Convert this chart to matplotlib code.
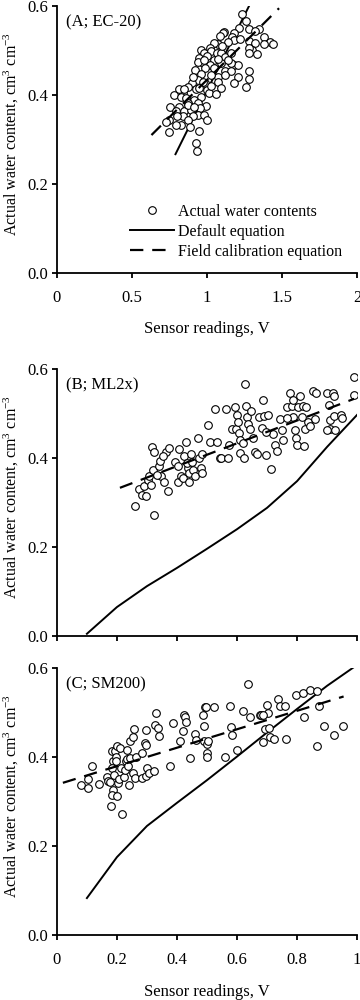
import matplotlib
matplotlib.use('Agg')
import matplotlib.pyplot as plt
import numpy as np

plt.rcParams['font.family'] = ['Liberation Serif', 'DejaVu Serif']
plt.rcParams['mathtext.fontset'] = 'custom'
plt.rcParams['mathtext.rm'] = 'Liberation Serif'
plt.rcParams['mathtext.it'] = 'Liberation Serif:italic'

# ---- panel A: EC-20 ----
a_x = [1.232, 1.257, 1.283, 1.346, 1.32, 1.212, 1.183, 1.116, 1.109, 1.087,
       1.165, 1.183, 1.217, 1.283, 1.32, 1.382, 1.42, 1.438, 1.382, 1.299,
       1.283, 1.333, 1.283, 1.076, 1.049, 1.138, 1.022, 0.96, 0.982, 1.027,
       1.065, 1.094, 1.121, 1.161, 1.0, 0.949, 1.049, 1.094, 0.971, 0.938,
       1.022, 1.183, 1.205, 1.161, 0.987, 0.92, 1.049, 1.121, 1.161, 1.283,
       1.071, 1.121, 1.027, 0.96, 1.205, 1.283, 1.071, 1.183, 1.259, 0.938,
       0.897, 0.987, 0.871, 0.929, 1.0, 1.016, 1.06, 0.96, 0.837, 0.815,
       0.844, 0.781, 0.826, 0.859, 0.915, 0.875, 0.938, 0.993, 0.815, 0.754,
       0.792, 0.844, 0.893, 0.955, 0.938, 0.978, 0.837, 0.797, 0.904, 0.875,
       1.0, 0.748, 0.826, 0.792, 0.884, 0.725, 0.748, 0.944, 0.926, 0.933,
       0.971, 0.904, 0.949, 1.027, 1.094, 0.871, 0.915, 1.138, 1.098, 1.071,
       0.978]
a_y = [0.583, 0.567, 0.548, 0.548, 0.544, 0.551, 0.539, 0.542, 0.539, 0.533,
       0.530, 0.524, 0.525, 0.521, 0.516, 0.531, 0.52, 0.514, 0.514, 0.501,
       0.505, 0.492, 0.494, 0.514, 0.516, 0.518, 0.505, 0.501, 0.495, 0.5,
       0.494, 0.494, 0.486, 0.494, 0.488, 0.483, 0.479, 0.471, 0.471, 0.475,
       0.467, 0.467, 0.467, 0.471, 0.46, 0.456, 0.46, 0.453, 0.453, 0.453,
       0.441, 0.445, 0.445, 0.447, 0.441, 0.435, 0.43, 0.426, 0.417, 0.434,
       0.426, 0.426, 0.417, 0.413, 0.411, 0.404, 0.402, 0.396, 0.404, 0.413,
       0.413, 0.4, 0.396, 0.393, 0.389, 0.381, 0.381, 0.375, 0.374, 0.373,
       0.365, 0.363, 0.367, 0.37, 0.355, 0.355, 0.353, 0.352, 0.352, 0.343,
       0.343, 0.343, 0.333, 0.333, 0.329, 0.34, 0.316, 0.318, 0.293, 0.275,
       0.43, 0.441, 0.415, 0.42, 0.415, 0.377, 0.374, 0.479, 0.51, 0.482,
       0.479]
a_default_x = [0.79, 1.28]
a_default_y = [0.267, 0.6]
a_field_x = [0.63, 1.48]
a_field_y = [0.31, 0.595]

# ---- panel B: ML2x ----
b_x = [0.259, 0.324, 0.274, 0.285, 0.296, 0.291, 0.302, 0.313, 0.318, 0.324,
       0.307, 0.321, 0.341, 0.346, 0.343, 0.358, 0.369, 0.363, 0.372, 0.352,
       0.332, 0.394, 0.402, 0.402, 0.408, 0.413, 0.425, 0.419, 0.43, 0.436,
       0.433, 0.441, 0.439, 0.447, 0.45, 0.455, 0.461, 0.469, 0.475, 0.48,
       0.484, 0.484, 0.503, 0.511, 0.525, 0.533, 0.542, 0.547, 0.562, 0.573,
       0.57, 0.584, 0.592, 0.595, 0.6, 0.603, 0.607, 0.611, 0.62, 0.609,
       0.622, 0.626, 0.629, 0.634, 0.637, 0.643, 0.648, 0.654, 0.659, 0.665,
       0.674, 0.682, 0.687, 0.689, 0.698, 0.704, 0.712, 0.721, 0.726, 0.732,
       0.743, 0.749, 0.754, 0.765, 0.777, 0.782, 0.786, 0.788, 0.793, 0.797,
       0.801, 0.804, 0.81, 0.816, 0.821, 0.824, 0.827, 0.83, 0.838, 0.844,
       0.853, 0.86, 0.864, 0.9, 0.905, 0.911, 0.911, 0.92, 0.922, 0.922,
       0.927, 0.947, 0.95, 0.989, 0.989, 0.9, 0.768, 0.698]
b_y = [0.293, 0.272, 0.33, 0.317, 0.315, 0.338, 0.351, 0.34, 0.425, 0.413,
       0.359, 0.374, 0.381, 0.359, 0.394, 0.347, 0.325, 0.413, 0.422, 0.404,
       0.362, 0.392, 0.381, 0.347, 0.42, 0.359, 0.404, 0.355, 0.437, 0.377,
       0.389, 0.366, 0.347, 0.41, 0.391, 0.374, 0.359, 0.445, 0.4, 0.377,
       0.41, 0.366, 0.475, 0.437, 0.51, 0.437, 0.4, 0.4, 0.51, 0.43,
       0.4, 0.465, 0.515, 0.465, 0.497, 0.482, 0.456, 0.441, 0.434, 0.411,
       0.401, 0.567, 0.517, 0.492, 0.477, 0.465, 0.505, 0.445, 0.413, 0.409,
       0.492, 0.467, 0.53, 0.494, 0.407, 0.497, 0.375, 0.455, 0.43, 0.415,
       0.488, 0.464, 0.44, 0.515, 0.545, 0.517, 0.492, 0.531, 0.464, 0.445,
       0.43, 0.515, 0.54, 0.492, 0.517, 0.426, 0.465, 0.514, 0.482, 0.471,
       0.551, 0.488, 0.545, 0.546, 0.52, 0.486, 0.465, 0.546, 0.54, 0.495,
       0.464, 0.497, 0.49, 0.582, 0.542, 0.464, 0.49, 0.458]
b_default_x = [0.1, 0.2, 0.3, 0.4, 0.5, 0.6, 0.7, 0.8, 0.9, 1.0]
b_default_y = [0.005, 0.065, 0.112, 0.153, 0.196, 0.240, 0.288, 0.348, 0.425, 0.497]
b_field_x = [0.21, 0.99]
b_field_y = [0.333, 0.533]

# ---- panel C: SM200 ----
c_x = [0.081, 0.104, 0.104, 0.118, 0.139, 0.167, 0.17, 0.176, 0.182, 0.187,
       0.185, 0.189, 0.187, 0.182, 0.179, 0.193, 0.198, 0.2, 0.196, 0.2,
       0.204, 0.207, 0.209, 0.215, 0.218, 0.223, 0.226, 0.229, 0.232, 0.234,
       0.237, 0.24, 0.243, 0.245, 0.252, 0.254, 0.256, 0.259, 0.263, 0.282,
       0.285, 0.293, 0.298, 0.298, 0.298, 0.301, 0.307, 0.323, 0.326, 0.33,
       0.337, 0.341, 0.378, 0.388, 0.41, 0.421, 0.423, 0.426, 0.43, 0.445,
       0.46, 0.463, 0.488, 0.49, 0.49, 0.493, 0.497, 0.499, 0.501, 0.501,
       0.504, 0.523, 0.56, 0.577, 0.579, 0.582, 0.601, 0.62, 0.644, 0.638,
       0.675, 0.679, 0.688, 0.693, 0.699, 0.702, 0.708, 0.71, 0.722, 0.735,
       0.744, 0.761, 0.764, 0.797, 0.82, 0.822, 0.842, 0.866, 0.866, 0.872,
       0.891, 0.922, 0.953, 0.688]
c_y = [0.3375, 0.33, 0.351, 0.379, 0.34, 0.356, 0.347, 0.343, 0.4125, 0.392,
       0.375, 0.36, 0.326, 0.315, 0.291, 0.4125, 0.401, 0.424, 0.39, 0.313,
       0.341, 0.35, 0.42, 0.375, 0.272, 0.356, 0.371, 0.39, 0.416, 0.395,
       0.379, 0.3375, 0.398, 0.435, 0.364, 0.446, 0.463, 0.3525, 0.399, 0.409,
       0.3525, 0.431, 0.4275, 0.358, 0.461, 0.375, 0.365, 0.3675, 0.4725, 0.499,
       0.465, 0.448, 0.379, 0.476, 0.435, 0.4575, 0.495, 0.49, 0.4785, 0.3975,
       0.452, 0.439, 0.495, 0.469, 0.435, 0.5115, 0.512, 0.43, 0.41, 0.4,
       0.435, 0.512, 0.4, 0.515, 0.467, 0.45, 0.416, 0.5025, 0.491, 0.565,
       0.495, 0.495, 0.433, 0.463, 0.5175, 0.5, 0.465, 0.446, 0.44, 0.53,
       0.515, 0.515, 0.44, 0.54, 0.544, 0.49, 0.551, 0.5475, 0.425, 0.514,
       0.469, 0.45, 0.469, 0.495]
c_default_x = [0.1, 0.2, 0.3, 0.4, 0.5, 0.6, 0.7, 0.8, 0.9, 1.0]
c_default_y = [0.083, 0.175, 0.245, 0.297, 0.348, 0.401, 0.455, 0.508, 0.56, 0.607]
c_field_x = [0.02, 0.955]
c_field_y = [0.342, 0.536]

ylabel = 'Actual water content, cm$^{3}$ cm$^{-3}$'
xlabel = 'Sensor readings, V'
TICK_FS = 12
LAB_FS = 12


def draw_panel(ax, x, y, dx, dy, fx, fy, tag, xmax, xticks, xticklabels):
    ax.plot(x, y, 'o', mfc='white', mec='black', ms=5.5, mew=0.8,
            label='Actual water contents', zorder=3)
    ax.plot(dx, dy, '-', color='black', lw=1.4, label='Default equation', zorder=2)
    ax.plot(fx, fy, color='black', lw=1.6, dashes=(6, 4),
            label='Field calibration equation', zorder=4)
    ax.set_xlim(0, xmax)
    ax.set_ylim(0, 0.6)
    ax.set_yticks([0, 0.2, 0.4, 0.6])
    ax.set_yticklabels(['0.0', '0.2', '0.4', '0.6'])
    ax.set_xticks(xticks)
    ax.set_xticklabels(xticklabels)
    for s in ['top', 'right']:
        ax.spines[s].set_visible(False)
    for s in ['left', 'bottom']:
        ax.spines[s].set_linewidth(1.3)
    ax.tick_params(direction='out', length=3.5, width=1.3, labelsize=TICK_FS)
    ax.tick_params(axis='y', pad=2.5)
    ax.tick_params(axis='x', pad=9)
    ax.set_ylabel(ylabel, fontsize=11.5)
    ax.yaxis.set_label_coords(-0.118, 0.52)
    ax.text(0.03, 0.94, tag, transform=ax.transAxes, fontsize=LAB_FS, va='center')


fig = plt.figure(figsize=(3.6, 10), dpi=100)
axA = fig.add_axes([0.158, 0.727, 0.834, 0.267])
axB = fig.add_axes([0.158, 0.364, 0.834, 0.267])
axC = fig.add_axes([0.158, 0.065, 0.834, 0.267])

draw_panel(axA, a_x, a_y, a_default_x, a_default_y, a_field_x, a_field_y,
           '(A; EC-20)', 2, [0, 0.5, 1, 1.5, 2], ['0', '0.5', '1', '1.5', '2'])
axA.set_xlabel(xlabel, fontsize=LAB_FS)
axA.xaxis.set_label_coords(0.5, -0.18)
axA.legend(loc='lower left', bbox_to_anchor=(0.245, 0.05), frameon=False,
           fontsize=11.5, handlelength=2.7, handletextpad=0.3, labelspacing=0.25,
           borderpad=0, borderaxespad=0)

draw_panel(axB, b_x, b_y, b_default_x, b_default_y, b_field_x, b_field_y,
           '(B; ML2x)', 1, [0, 0.2, 0.4, 0.6, 0.8, 1.0], [])

draw_panel(axC, c_x, c_y, c_default_x, c_default_y, c_field_x, c_field_y,
           '(C; SM200)', 1, [0, 0.2, 0.4, 0.6, 0.8, 1.0],
           ['0', '0.2', '0.4', '0.6', '0.8', '1'])
axC.set_xlabel(xlabel, fontsize=LAB_FS)
axC.xaxis.set_label_coords(0.5, -0.185)

fig.savefig('out.png', dpi=100)
